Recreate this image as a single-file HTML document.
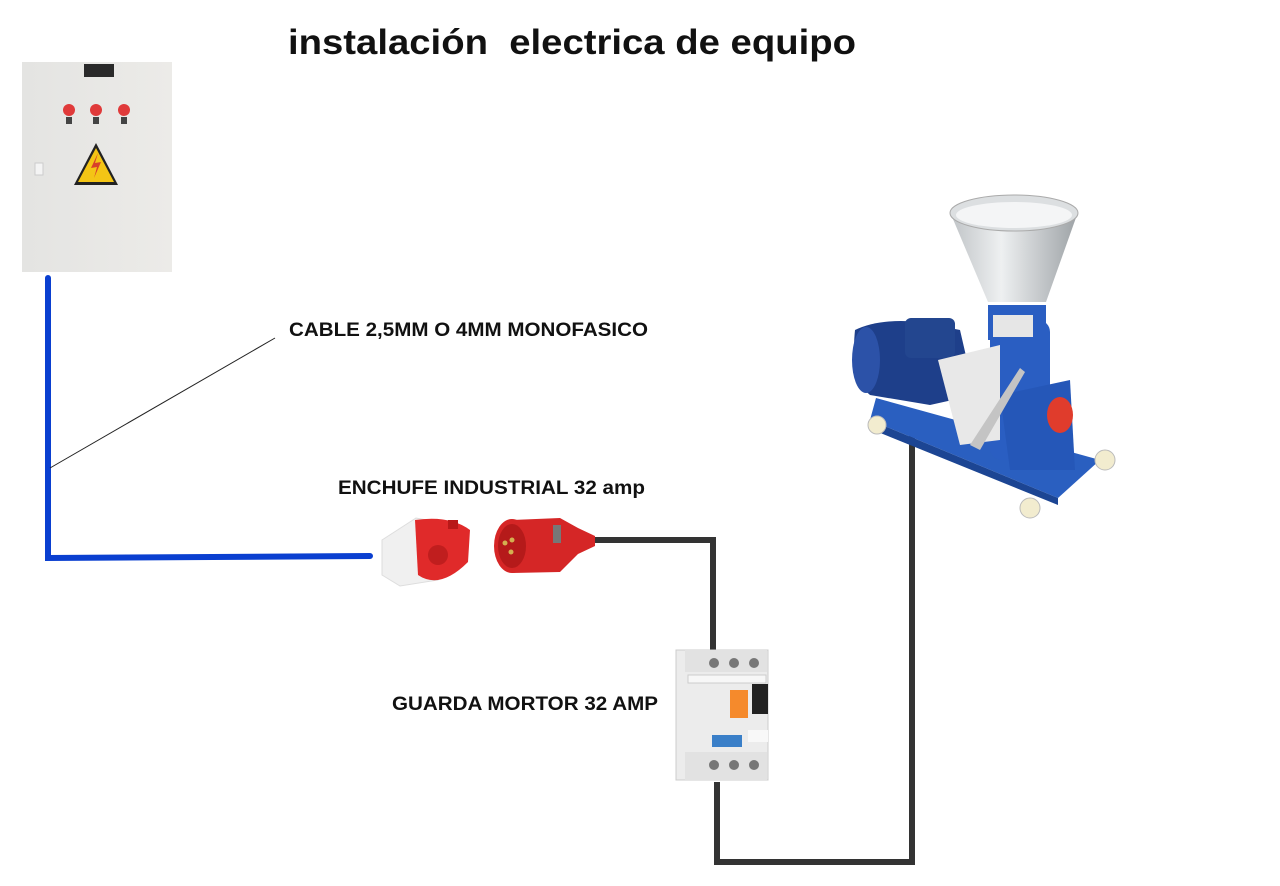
<!DOCTYPE html>
<html><head><meta charset="utf-8"><style>
body{margin:0;background:#fff;}
svg{display:block}
text{font-family:"Liberation Sans",Arial,sans-serif;font-weight:bold;fill:#111}
</style></head><body>
<svg width="1280" height="886" viewBox="0 0 1280 886" xmlns="http://www.w3.org/2000/svg">
<defs>
<linearGradient id="cone" x1="0" x2="1"><stop offset="0" stop-color="#bfc3c6"/><stop offset=".4" stop-color="#eef0f1"/><stop offset="1" stop-color="#9da2a6"/></linearGradient>
<linearGradient id="panel" x1="0" x2="1"><stop offset="0" stop-color="#e4e4e2"/><stop offset="1" stop-color="#ecebe8"/></linearGradient>
</defs>
<text x="288" y="54" font-size="35" textLength="568" lengthAdjust="spacingAndGlyphs" xml:space="preserve">instalación  electrica de equipo</text>

<!-- panel -->
<rect x="22" y="62" width="150" height="210" fill="url(#panel)"/>
<rect x="84" y="64" width="30" height="13" fill="#2a2a2a"/>
<circle cx="69" cy="110" r="6" fill="#e03a3a"/><rect x="66" y="117" width="6" height="7" fill="#444"/>
<circle cx="96" cy="110" r="6" fill="#e03a3a"/><rect x="93" y="117" width="6" height="7" fill="#444"/>
<circle cx="124" cy="110" r="6" fill="#e03a3a"/><rect x="121" y="117" width="6" height="7" fill="#444"/>
<polygon points="96,143 118,185 74,185" fill="#222"/>
<polygon points="96,148 114,182 78,182" fill="#f4c515"/>
<path d="M98,153 L91,168 L97,167 L94,178 L101,162 L95,163 Z" fill="#d8402a"/>
<rect x="35" y="163" width="8" height="12" fill="#f4f4f4" stroke="#ccc"/>

<!-- wires -->
<path d="M48,278 L48,558 L370,556" fill="none" stroke="#0a3fd0" stroke-width="6" stroke-linecap="round"/>
<line x1="50" y1="468" x2="275" y2="338" stroke="#222" stroke-width="1"/>
<path d="M590,540 L713,540 L713,652" fill="none" stroke="#333" stroke-width="6"/>
<path d="M717,782 L717,862 L912,862 L912,432" fill="none" stroke="#333" stroke-width="6"/>

<text x="289" y="336" font-size="19" textLength="359" lengthAdjust="spacingAndGlyphs">CABLE 2,5MM O 4MM MONOFASICO</text>
<text x="338" y="494" font-size="19" textLength="307" lengthAdjust="spacingAndGlyphs">ENCHUFE INDUSTRIAL 32 amp</text>
<text x="392" y="710" font-size="19" textLength="266" lengthAdjust="spacingAndGlyphs">GUARDA MORTOR 32 AMP</text>

<!-- socket -->
<path d="M382,540 L416,518 L438,522 L438,580 L400,586 L382,575 Z" fill="#f0f0f0" stroke="#ddd"/>
<path d="M415,520 Q450,515 470,530 L468,562 Q440,590 418,575 Z" fill="#e02a2a"/>
<rect x="448" y="520" width="10" height="9" fill="#b81818"/>
<circle cx="438" cy="555" r="10" fill="#c01e1e"/>
<!-- plug -->
<ellipse cx="512" cy="546" rx="18" ry="27" fill="#d62626"/>
<path d="M512,520 L560,518 L578,528 L595,536 L595,546 L578,554 L560,572 L512,573 Z" fill="#d52626"/>
<ellipse cx="512" cy="546" rx="14" ry="22" fill="#b51a1a"/>
<circle cx="505" cy="543" r="2.5" fill="#d4b050"/><circle cx="512" cy="540" r="2.5" fill="#d4b050"/><circle cx="511" cy="552" r="2.5" fill="#d4b050"/>
<rect x="553" y="525" width="8" height="18" fill="#777"/>

<!-- breaker -->
<rect x="676" y="650" width="92" height="130" fill="#ececec" stroke="#ccc"/>
<rect x="685" y="650" width="82" height="22" fill="#e2e2e2"/>
<circle cx="714" cy="663" r="5" fill="#777"/><circle cx="734" cy="663" r="5" fill="#777"/><circle cx="754" cy="663" r="5" fill="#777"/>
<rect x="688" y="675" width="78" height="8" fill="#f7f7f7" stroke="#ccc"/>
<rect x="730" y="690" width="18" height="28" fill="#f58a2c"/>
<rect x="752" y="684" width="16" height="30" fill="#222"/>
<rect x="712" y="735" width="30" height="12" fill="#3a7fc8"/>
<rect x="748" y="730" width="20" height="12" fill="#f8f8f8"/>
<rect x="685" y="752" width="82" height="28" fill="#e2e2e2"/>
<circle cx="714" cy="765" r="5" fill="#777"/><circle cx="734" cy="765" r="5" fill="#777"/><circle cx="754" cy="765" r="5" fill="#777"/>

<!-- machine -->
<polygon points="876,398 1100,460 1058,498 870,420" fill="#2a5fc0"/>
<polygon points="870,420 1058,498 1058,505 868,428" fill="#1c4593"/>
<rect x="990" y="320" width="60" height="140" rx="12" fill="#2a5ec2"/>
<path d="M1000,395 L1070,380 L1075,470 L1010,470 Z" fill="#2557b8"/>
<ellipse cx="1060" cy="415" rx="13" ry="18" fill="#e03c2c"/>
<path d="M855,330 Q880,318 920,322 L960,330 L975,395 L930,405 L870,395 Q850,380 855,330 Z" fill="#1e3f8a"/>
<rect x="905" y="318" width="50" height="40" rx="6" fill="#23468f"/>
<ellipse cx="866" cy="360" rx="14" ry="33" fill="#2c52a8"/>
<path d="M938,360 L1000,345 L1000,440 L960,445 Z" fill="#e8e8e8"/>
<path d="M1020,368 L1025,372 L980,450 L970,445 Z" fill="#c4c4c4"/>
<rect x="988" y="305" width="58" height="35" fill="#2a5ec2"/>
<rect x="993" y="315" width="40" height="22" fill="#e6e6e6"/>
<polygon points="950,212 1078,212 1046,302 988,302" fill="url(#cone)"/>
<ellipse cx="1014" cy="213" rx="64" ry="18" fill="#dcdfe1" stroke="#aaa"/>
<ellipse cx="1014" cy="215" rx="58" ry="13" fill="#f4f5f6"/>
<g fill="#f2eccf" stroke="#bbb"><circle cx="877" cy="425" r="9"/><circle cx="1030" cy="508" r="10"/><circle cx="1105" cy="460" r="10"/></g>
</svg>
</body></html>
